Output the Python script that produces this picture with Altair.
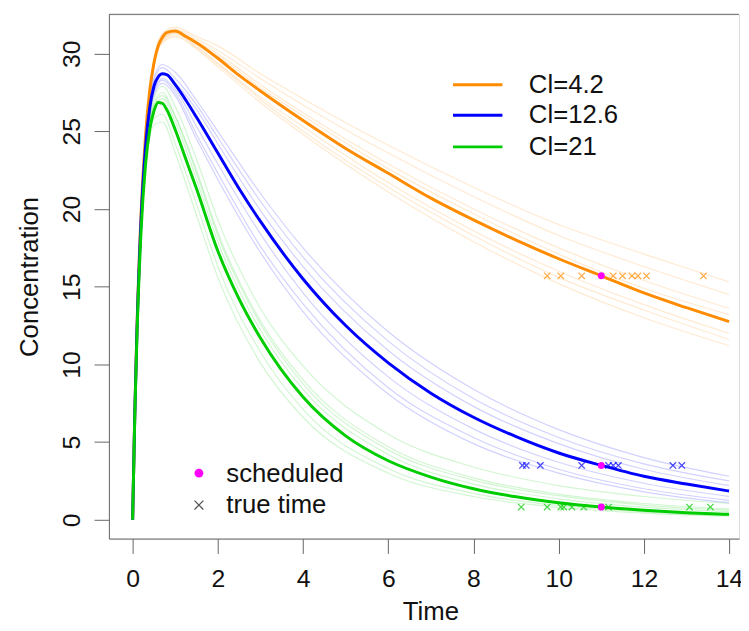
import altair as alt
import pandas as pd

# ---------------- data ----------------
groups = ["Cl=4.2", "Cl=12.6", "Cl=21"]
colors = ["#FF8C00", "#0000FF", "#00CD00"]

t_main = [0, 0.05, 0.1, 0.2, 0.3, 0.4, 0.5, 0.6, 0.7, 0.8, 1, 1.25, 1.5, 2, 2.5, 3,
          4, 5, 6, 7, 8, 9, 10, 11, 12, 13, 14]
orange_main = [0, 6.8, 12.2, 19.8, 24.6, 27.6, 29.4, 30.5, 31.05, 31.35, 31.45, 31.1, 30.7,
               29.7, 28.6, 27.6, 25.7, 23.9, 22.3, 20.7, 19.3, 18.0, 16.8, 15.7, 14.6, 13.65, 12.75]
blue_main = [0, 6.7, 12.0, 19.4, 23.9, 26.5, 27.9, 28.5, 28.7, 28.65, 28.0, 27.0, 25.9,
             23.6, 21.3, 19.2, 15.5, 12.5, 10.1, 8.15, 6.6, 5.35, 4.3, 3.5, 2.8, 2.3, 1.85]
green_main = [0, 6.6, 11.7, 18.7, 22.8, 25.1, 26.3, 26.85, 26.8, 26.4, 25.1, 23.2, 21.3,
              17.3, 14.2, 11.7, 7.9, 5.4, 3.8, 2.75, 2.0, 1.48, 1.1, 0.82, 0.62, 0.46, 0.35]

t_faint = [0, 0.1, 0.2, 0.3, 0.5, 0.7, 1, 1.5, 2, 3, 4, 6, 8, 10, 12, 14]
orange_faint = [
    [0, 12.3, 20.0, 24.8, 29.6, 31.3, 31.7, 31.1, 30.5, 28.7, 27.1, 24.1, 21.4, 19.0, 17.1, 15.3],
    [0, 12.25, 19.9, 24.7, 29.5, 31.2, 31.6, 30.95, 30.2, 28.4, 26.7, 23.6, 20.8, 18.3, 16.3, 14.5],
    [0, 12.2, 19.85, 24.65, 29.45, 31.1, 31.5, 30.8, 30.0, 28.0, 26.2, 22.9, 20.0, 17.5, 15.4, 13.6],
    [0, 12.15, 19.75, 24.55, 29.3, 30.95, 31.35, 30.6, 29.85, 27.8, 26.0, 22.6, 19.7, 17.1, 14.9, 13.2],
    [0, 12.1, 19.7, 24.5, 29.25, 30.9, 31.3, 30.5, 29.4, 27.2, 25.3, 21.7, 18.6, 16.0, 13.85, 12.0],
    [0, 12.1, 19.65, 24.4, 29.15, 30.8, 31.2, 30.4, 29.3, 27.05, 25.0, 21.4, 18.3, 15.6, 13.5, 11.6],
    [0, 12.05, 19.6, 24.35, 29.1, 30.7, 31.1, 30.3, 29.15, 26.85, 24.8, 21.1, 17.9, 15.2, 13.0, 11.2],
]
blue_faint = [
    [0, 12.2, 19.8, 24.4, 28.5, 29.3, 28.8, 27.0, 25.0, 21.0, 17.5, 12.1, 8.4, 5.8, 4.0, 2.8],
    [0, 12.15, 19.7, 24.3, 28.3, 29.1, 28.4, 26.7, 24.6, 20.5, 16.9, 11.5, 7.8, 5.3, 3.6, 2.5],
    [0, 12.0, 19.4, 23.9, 27.9, 28.7, 28.1, 26.4, 24.2, 19.9, 16.3, 10.9, 7.3, 4.9, 3.25, 2.2],
    [0, 11.9, 19.2, 23.7, 27.6, 28.4, 27.7, 25.3, 22.9, 18.4, 14.6, 9.2, 5.85, 3.7, 2.35, 1.5],
    [0, 11.8, 19.1, 23.5, 27.5, 28.3, 27.5, 24.8, 22.3, 17.6, 13.9, 8.5, 5.3, 3.25, 2.0, 1.25],
    [0, 11.8, 19.0, 23.4, 27.3, 28.1, 27.3, 24.5, 21.9, 17.2, 13.4, 8.1, 4.9, 3.0, 1.8, 1.1],
]
green_faint = [
    [0, 11.9, 19.1, 23.4, 27.1, 27.9, 26.6, 23.2, 19.3, 13.6, 9.9, 5.5, 3.4, 2.2, 1.5, 1.05],
    [0, 11.8, 18.9, 23.2, 26.8, 27.5, 26.0, 22.5, 18.5, 12.8, 9.0, 4.7, 2.7, 1.65, 1.05, 0.7],
    [0, 11.8, 18.85, 23.1, 26.7, 27.3, 25.9, 22.3, 18.3, 12.6, 8.75, 4.5, 2.55, 1.55, 0.95, 0.62],
    [0, 11.75, 18.8, 23.0, 26.5, 27.1, 25.6, 21.9, 17.9, 12.2, 8.4, 4.2, 2.3, 1.35, 0.82, 0.52],
    [0, 11.6, 18.5, 22.5, 25.8, 26.1, 24.2, 20.3, 16.3, 10.8, 7.1, 3.3, 1.7, 0.92, 0.51, 0.28],
    [0, 11.5, 18.3, 22.2, 25.4, 25.6, 23.6, 19.6, 15.6, 10.1, 6.6, 3.0, 1.5, 0.8, 0.43, 0.23],
]

sched_time = 11
sched_conc = [15.7, 3.5, 0.82]
true_orange = [9.73, 10.05, 10.54, 11.28, 11.5, 11.72, 11.86, 12.06, 13.4]
true_blue = [9.15, 9.24, 9.57, 10.54, 11.17, 11.28, 11.4, 12.68, 12.89]
true_green = [9.12, 9.73, 10.05, 10.12, 10.31, 10.59, 11.17, 13.07, 13.56]

x_ticks = [0, 2, 4, 6, 8, 10, 12, 14]
y_ticks = [0, 5, 10, 15, 20, 25, 30]

# ---------------- tables ----------------
main_df = pd.DataFrame([
    {"group": g, "t": t, "c": c}
    for g, vals in zip(groups, [orange_main, blue_main, green_main])
    for t, c in zip(t_main, vals)
])
faint_df = pd.DataFrame([
    {"group": g, "id": f"{g}-{i}", "t": t, "c": c}
    for g, curves in zip(groups, [orange_faint, blue_faint, green_faint])
    for i, vals in enumerate(curves)
    for t, c in zip(t_faint, vals)
])
sched_df = pd.DataFrame({"t": [sched_time] * 3, "c": sched_conc, "group": groups})
true_df = pd.DataFrame([
    {"group": g, "t": t, "c": c}
    for g, times, c in zip(groups, [true_orange, true_blue, true_green], sched_conc)
    for t in times
])

# legend tables (placed in data units)
leg_lines = pd.DataFrame({"group": groups, "t": [7.52] * 3, "t2": [8.68] * 3,
                          "c": [28.0, 26.03, 24.0]})
leg_text = pd.DataFrame({"label": groups, "t": [9.3] * 3, "c": [28.0, 26.03, 24.0]})
leg2_text = pd.DataFrame({"label": ["scheduled", "true time"], "t": [2.2, 2.2],
                          "c": [2.95, 0.92]})
leg2_dot = pd.DataFrame({"t": [1.556], "c": [3.0]})
leg2_cross = pd.DataFrame({"t": [1.556], "c": [0.95]})

W, H = 637, 530
XMIN, XMAX = -0.557, -0.557 + W / 43.07
YMIN, YMAX = -1.21, 32.53
FONT = "Liberation Sans"
FS_TICK = 25
FS_TITLE = 26
FS_LEG = 26

xaxis = alt.Axis(values=x_ticks, title="Time", grid=False, tickSize=15, tickColor="#666",
                 domainColor="#666", labelFont=FONT, labelFontSize=FS_TICK, labelColor="#111",
                 labelPadding=13, labelFlush=False, labelOverlap=False,
                 titleFont=FONT, titleFontSize=FS_TITLE, titleFontWeight="normal",
                 titleColor="#111", titleX=325, titleY=74, titleBaseline="middle",
                 titleAlign="center")
yaxis = alt.Axis(values=y_ticks, title="Concentration", grid=False, tickSize=15,
                 tickColor="#666", domainColor="#666", labelFont=FONT, labelFontSize=FS_TICK,
                 labelColor="#111", labelAngle=270, labelAlign="center",
                 labelBaseline="bottom", labelPadding=10, labelFlush=False,
                 labelOverlap=False, titleFont=FONT, titleFontSize=FS_TITLE,
                 titleFontWeight="normal", titleColor="#111", titleAngle=270,
                 titleX=-80, titleY=265, titleBaseline="middle", titleAlign="center")

X = alt.X("t:Q", scale=alt.Scale(domain=[XMIN, XMAX], nice=False, zero=False), axis=xaxis)
Y = alt.Y("c:Q", scale=alt.Scale(domain=[YMIN, YMAX], nice=False, zero=False), axis=yaxis)
COL = alt.Color("group:N", scale=alt.Scale(domain=groups, range=colors), legend=None)

faint = alt.Chart(faint_df).mark_line(strokeWidth=1.2, opacity=0.18, interpolate="monotone",
                                      clip=True).encode(x=X, y=Y, color=COL, detail="id:N")
main = alt.Chart(main_df).mark_line(strokeWidth=3, interpolate="monotone", clip=True).encode(
    x=X, y=Y, color=COL)
cross_path = "M-1,-1L1,1M-1,1L1,-1"
crosses = alt.Chart(true_df).mark_point(shape=cross_path, filled=False, size=42,
                                        strokeWidth=1.3, opacity=0.7).encode(x=X, y=Y, color=COL)
dots = alt.Chart(sched_df).mark_point(shape="circle", filled=True, size=50, opacity=1,
                                      color="#FF00FF").encode(x=X, y=Y)

top_border = alt.Chart(pd.DataFrame({"a": [0]})).mark_rule(color="#666", strokeWidth=1).encode(
    x=alt.value(0), x2=alt.value(W), y=alt.value(0))

l_lines = alt.Chart(leg_lines).mark_rule(strokeWidth=3).encode(
    x=X, x2="t2:Q", y=Y, color=COL)
l_text = alt.Chart(leg_text).mark_text(align="left", baseline="middle", font=FONT,
                                       fontSize=FS_LEG, color="#111").encode(
    x=X, y=Y, text="label:N")
l2_text = alt.Chart(leg2_text).mark_text(align="left", baseline="middle", font=FONT,
                                         fontSize=FS_LEG, color="#111").encode(
    x=X, y=Y, text="label:N")
l2_dot = alt.Chart(leg2_dot).mark_point(shape="circle", filled=True, size=80, opacity=1,
                                        color="#FF00FF").encode(x=X, y=Y)
l2_cross = alt.Chart(leg2_cross).mark_point(shape=cross_path, filled=False, size=80,
                                            strokeWidth=1.3, opacity=1,
                                            color="#555").encode(x=X, y=Y)

chart = alt.layer(faint, main, crosses, dots, top_border, l_lines, l_text, l2_text, l2_dot,
                  l2_cross).properties(
    width=W, height=H,
    autosize=alt.AutoSizeParams(type="none"),
    padding={"left": 102, "top": 3, "right": 2, "bottom": 88},
).configure_view(strokeWidth=0).configure(background="white")

chart.save("out.html", embed_options={"renderer": "svg", "actions": False})
